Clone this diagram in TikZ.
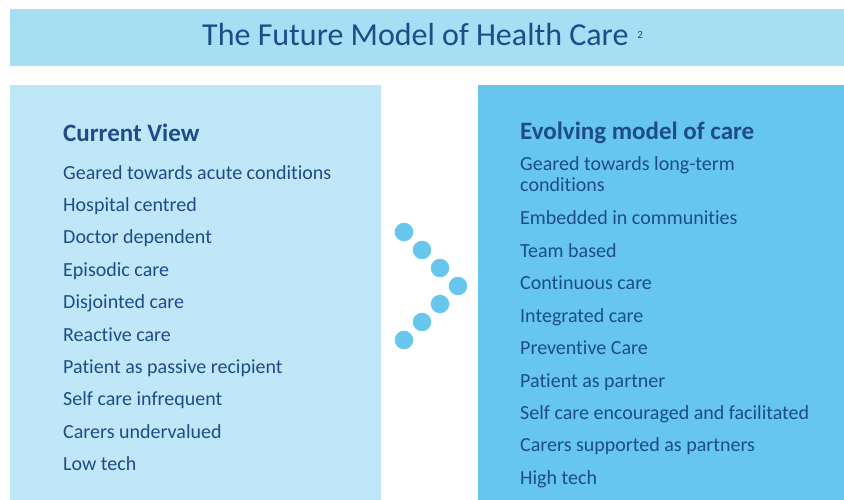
\documentclass[tikz,border=0pt]{standalone}
\usepackage{fontspec}
\setmainfont[Ligatures={NoCommon}]{Carlito}
\definecolor{titlebg}{HTML}{A6DEF4}
\definecolor{leftbg}{HTML}{BFE7F8}
\definecolor{rightbg}{HTML}{66C6EE}
\definecolor{dotc}{HTML}{66C6EE}
\definecolor{txt}{HTML}{1D4C88}
\tikzset{
  item/.style={anchor=base west, inner sep=0pt, text=txt, font=\fontsize{20}{24}\selectfont},
  head/.style={anchor=base west, inner sep=0pt, text=txt, font=\fontsize{25}{29}\selectfont\bfseries},
  dotnode/.style={circle, fill=dotc, minimum size=18.5pt, inner sep=0pt},
}
\begin{document}
\begin{tikzpicture}[x=1pt,y=-1pt]
\useasboundingbox (0,0) rectangle (844,500);
\fill[titlebg] (10,9) rectangle (844,66);
\node[anchor=base west, inner sep=0pt, text=txt, font=\fontsize{32}{36}\selectfont] (title) at (202,46) {The Future Model of Health Care\hspace{9pt}\raisebox{7pt}{\fontsize{11}{12}\selectfont 2}};
\fill[leftbg] (10,85) rectangle (381,500);
\fill[rightbg] (478,85) rectangle (844,500);
% left column
\node[head] (lh) at (63,141.5) {Current View};
\foreach \t [count=\i from 0] in {Geared towards acute conditions, Hospital centred, Doctor dependent, Episodic care, Disjointed care, Reactive care, Patient as passive recipient, Self care infrequent, Carers undervalued, Low tech}{
  \node[item] (l\i) at (63,179+32.4*\i) {\t};
}
% right column
\node[head] (rh) at (520,139.3) {Evolving model of care};
\node[item] (r0) at (520,170.7) {Geared towards long-term};
\node[item] (r0b) at (520,191.2) {conditions};
\foreach \t [count=\i from 1] in {Embedded in communities, Team based, Continuous care, Integrated care, Preventive Care, Patient as partner, Self care encouraged and facilitated, Carers supported as partners, High tech}{
  \node[item] (r\i) at (520,192.6+32.4*\i) {\t};
}
% chevron of dots
\node[dotnode] (d1) at (404,232) {};
\node[dotnode] (d2) at (422,250) {};
\node[dotnode] (d3) at (440,268) {};
\node[dotnode] (d4) at (458,286) {};
\node[dotnode] (d5) at (440,304) {};
\node[dotnode] (d6) at (422,322) {};
\node[dotnode] (d7) at (404,340) {};
\end{tikzpicture}
\end{document}
